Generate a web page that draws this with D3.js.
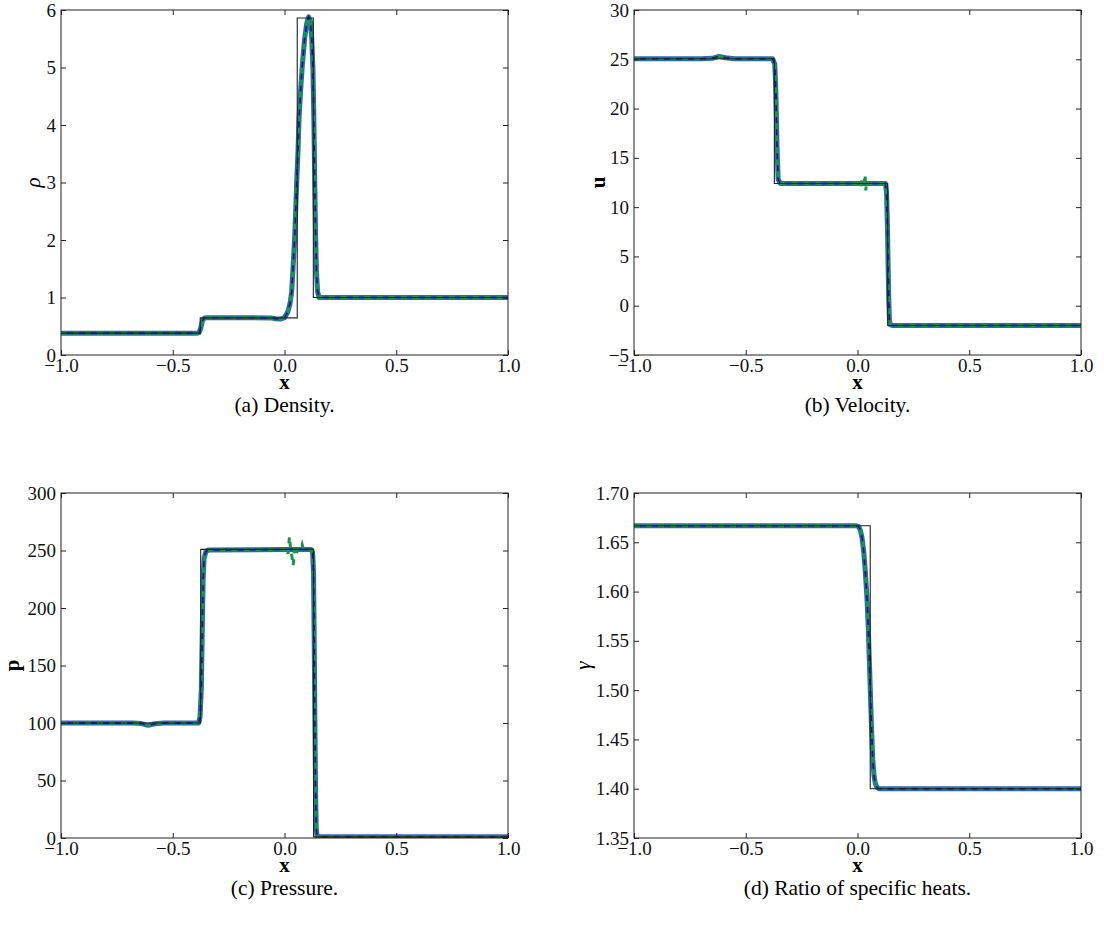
<!DOCTYPE html>
<html>
<head>
<meta charset="utf-8">
<script src="https://cdn.jsdelivr.net/npm/d3@7"></script>
<style>
  body { margin: 0; background: #fff; }
  svg text { font-family: "Liberation Serif", "Times New Roman", serif; }
</style>
</head>
<body>
<div id="plot"></div>
<script>

// ---- density ----
var rhoExactX = [-1, -0.377, -0.377, 0.057, 0.057, 0.129, 0.129, 1];
var rhoExactY = [0.38, 0.38, 0.645, 0.645, 5.86, 5.86, 1.0, 1.0];
var rhoNumX = [-1, -0.39, -0.382, -0.374, -0.367, -0.358, -0.34, -0.2, -0.06, -0.04, -0.02, 0.0, 0.015, 0.025, 0.032, 0.038, 0.045, 0.05, 0.055, 0.06, 0.065, 0.072, 0.08, 0.09, 0.1, 0.108, 0.116, 0.122, 0.127, 0.131, 0.135, 0.139, 0.143, 0.148, 0.155, 0.17, 1];
var rhoNumY = [0.38, 0.38, 0.39, 0.48, 0.6, 0.645, 0.65, 0.65, 0.645, 0.63, 0.625, 0.65, 0.75, 0.9, 1.1, 1.5, 2.0, 2.5, 3.05, 3.5, 4.1, 4.6, 5.05, 5.5, 5.78, 5.88, 5.8, 5.5, 5.0, 4.2, 3.1, 2.1, 1.45, 1.1, 1.0, 1.0, 1.0];

// ---- velocity ----
var uExactX = [-1, -0.372, -0.372, 0.135, 0.135, 1];
var uExactY = [25.05, 25.05, 12.4, 12.4, -2.0, -2.0];
var uNumX = [-1, -0.7, -0.65, -0.62, -0.59, -0.55, -0.38, -0.37, -0.365, -0.36, -0.355, -0.345, 0.0, 0.125, 0.13, 0.134, 0.137, 0.14, 0.143, 0.147, 0.155, 1];
var uNumY = [25.05, 25.05, 25.1, 25.3, 25.15, 25.05, 25.05, 24.5, 21.5, 16, 12.8, 12.4, 12.4, 12.4, 11.5, 8, 4, 0.5, -1.5, -1.95, -2.0, -2.0];
var uDashX = [-1, -0.7, -0.65, -0.62, -0.59, -0.55, -0.38, -0.37, -0.365, -0.36, -0.355, -0.345, 0.0, 0.006, 0.012, 0.018, 0.024, 0.03, 0.034, 0.037, 0.041, 0.046, 0.06, 0.125, 0.13, 0.134, 0.137, 0.14, 0.143, 0.147, 0.155, 1];
var uDashY = [25.05, 25.05, 25.1, 25.3, 25.15, 25.05, 25.05, 24.5, 21.5, 16, 12.8, 12.4, 12.4, 12.3, 12.0, 12.7, 12.2, 12.6, 13.3, 11.7, 12.6, 12.35, 12.4, 12.4, 11.5, 8, 4, 0.5, -1.5, -1.95, -2.0, -2.0];

// ---- pressure ----
var pExactX = [-1, -0.375, -0.375, 0.13, 0.13, 1];
var pExactY = [100, 100, 251, 251, 1, 1];
var pNumX = [-1, -0.68, -0.64, -0.61, -0.58, -0.54, -0.385, -0.378, -0.372, -0.368, -0.364, -0.36, -0.352, -0.34, 0.0, 0.12, 0.126, 0.13, 0.133, 0.136, 0.139, 0.142, 0.146, 0.155, 1];
var pNumY = [100, 100, 99.5, 98, 99.3, 100, 100, 105, 130, 180, 225, 243, 249, 250.5, 250.8, 250.8, 248, 230, 170, 100, 40, 8, 1.5, 1, 1];
var pDashX = [-1, -0.68, -0.64, -0.61, -0.58, -0.54, -0.385, -0.378, -0.372, -0.368, -0.364, -0.36, -0.352, -0.34, 0.0, 0.01, 0.016, 0.022, 0.028, 0.034, 0.039, 0.045, 0.052, 0.06, 0.072, 0.079, 0.086, 0.1, 0.12, 0.126, 0.13, 0.133, 0.136, 0.139, 0.142, 0.146, 0.155, 1];
var pDashY = [100, 100, 99.5, 98, 99.3, 100, 100, 105, 130, 180, 225, 243, 249, 250.5, 250.8, 252, 247, 262, 250, 244, 237, 252, 247, 251, 250, 255, 250, 250.8, 250.8, 248, 230, 170, 100, 40, 8, 1.5, 1, 1];

// ---- ratio of specific heats ----
var gExactX = [-1, 0.057, 0.057, 1];
var gExactY = [1.6667, 1.6667, 1.4, 1.4];
var gNumX = [-1, -0.005, 0.005, 0.013, 0.02, 0.028, 0.035, 0.042, 0.048, 0.053, 0.058, 0.063, 0.068, 0.074, 0.08, 0.088, 0.095, 1];
var gNumY = [1.6667, 1.6667, 1.666, 1.662, 1.655, 1.64, 1.62, 1.595, 1.565, 1.53, 1.495, 1.46, 1.43, 1.413, 1.405, 1.401, 1.4, 1.4];

var xTicks = [-1.0, -0.5, 0.0, 0.5, 1.0];

var panels = [
    { left: 61, top: 10, yDomain: [0, 6], yTicks: [0, 1, 2, 3, 4, 5, 6], yFmt: "d",
      yLabel: "ρ", yItalic: true, yLabelX: 40, caption: "(a) Density.",
      exact: [rhoExactX, rhoExactY], num: [rhoNumX, rhoNumY], dash: [rhoNumX, rhoNumY] },
    { left: 634, top: 10, yDomain: [-5, 30], yTicks: [-5, 0, 5, 10, 15, 20, 25, 30], yFmt: "d",
      yLabel: "u", yItalic: false, yLabelX: 605, caption: "(b) Velocity.",
      exact: [uExactX, uExactY], num: [uNumX, uNumY], dash: [uDashX, uDashY] },
    { left: 61, top: 493, yDomain: [0, 300], yTicks: [0, 50, 100, 150, 200, 250, 300], yFmt: "d",
      yLabel: "p", yItalic: false, yLabelX: 19, caption: "(c) Pressure.",
      exact: [pExactX, pExactY], num: [pNumX, pNumY], dash: [pDashX, pDashY] },
    { left: 634, top: 493, yDomain: [1.35, 1.70], yTicks: [1.35, 1.40, 1.45, 1.50, 1.55, 1.60, 1.65, 1.70], yFmt: ".2f",
      yLabel: "γ", yItalic: true, yLabelX: 590, caption: "(d) Ratio of specific heats.",
      exact: [gExactX, gExactY], num: [gNumX, gNumY], dash: [gNumX, gNumY] }
];

var width = 447;
var height = 345;

var svg = d3.select("#plot")
            .append("svg")
            .attr("width", 1104)
            .attr("height", 930);

panels.forEach(p => buildPanel(p));

function zipPts(arr){
    return arr[0].map((x, i) => [x, arr[1][i]]);
}

function buildPanel(p){

    var xScale = d3.scaleLinear().domain([-1, 1]).range([0, width]);
    var yScale = d3.scaleLinear().domain(p.yDomain).range([height, 0]);

    var g = svg.append("g")
               .attr("transform", "translate(" + p.left + "," + p.top + ")");

    var line = d3.line()
                 .x(d => xScale(d[0]))
                 .y(d => yScale(d[1]));

    var clipId = "clip" + p.left + "_" + p.top;
    g.append("clipPath").attr("id", clipId)
     .append("rect").attr("width", width).attr("height", height);

    var curves = g.append("g").attr("clip-path", "url(#" + clipId + ")");

    // numerical, blue
    curves.append("path")
          .attr("d", line(zipPts(p.num)))
          .style("fill", "none")
          .style("stroke", "#2a68b8")
          .style("stroke-width", 5)
          .style("stroke-linejoin", "round");

    // numerical, dark core
    curves.append("path")
          .attr("d", line(zipPts(p.num)))
          .style("fill", "none")
          .style("stroke", "#10204a")
          .style("stroke-width", 1.5);

    // numerical, green dashed
    curves.append("path")
          .attr("d", line(zipPts(p.dash)))
          .style("fill", "none")
          .style("stroke", "#15974a")
          .style("stroke-width", 3)
          .style("stroke-dasharray", "6,6");

    // exact
    curves.append("path")
          .attr("d", line(zipPts(p.exact)))
          .style("fill", "none")
          .style("stroke", "#222")
          .style("stroke-width", 1.1);

    // axes, ticks inside on all sides
    var fmtX = d3.format(".1f");
    var fmtY = d3.format(p.yFmt);

    var bottom = g.append("g")
                  .attr("transform", "translate(0," + height + ")")
                  .call(d3.axisBottom(xScale).tickValues(xTicks).tickFormat(fmtX)
                          .tickSizeInner(-5).tickSizeOuter(0).tickPadding(4));
    var top = g.append("g")
               .call(d3.axisTop(xScale).tickValues(xTicks).tickFormat("")
                       .tickSizeInner(-5).tickSizeOuter(0));
    var leftAx = g.append("g")
                  .call(d3.axisLeft(yScale).tickValues(p.yTicks).tickFormat(fmtY)
                          .tickSizeInner(-5).tickSizeOuter(0).tickPadding(5));
    var rightAx = g.append("g")
                   .attr("transform", "translate(" + width + ",0)")
                   .call(d3.axisRight(yScale).tickValues(p.yTicks).tickFormat("")
                           .tickSizeInner(-5).tickSizeOuter(0));

    [bottom, top, leftAx, rightAx].forEach(a => {
        a.select(".domain").remove();
        a.selectAll(".tick line").style("stroke", "#222").style("stroke-width", 1);
        a.selectAll("text")
         .style("font-family", "'Liberation Serif', serif")
         .style("font-size", "19px")
         .style("fill", "#111");
    });

    g.append("rect")
     .attr("width", width)
     .attr("height", height)
     .style("fill", "none")
     .style("stroke", "#222")
     .style("stroke-width", 1);

    // x label
    g.append("text")
     .attr("x", width / 2)
     .attr("y", height + 34)
     .attr("text-anchor", "middle")
     .style("font-size", "21px")
     .style("font-weight", "bold")
     .text("x");

    // y label
    svg.append("text")
       .attr("transform", "translate(" + p.yLabelX + "," + (p.top + height / 2) + ") rotate(-90)")
       .attr("text-anchor", "middle")
       .style("font-size", "21px")
       .style("font-weight", p.yItalic ? "normal" : "bold")
       .style("font-style", p.yItalic ? "italic" : "normal")
       .text(p.yLabel);

    // caption
    svg.append("text")
       .attr("x", p.left + width / 2)
       .attr("y", p.top + height + 57)
       .attr("text-anchor", "middle")
       .style("font-size", "21.5px")
       .text(p.caption);

}
</script>
</body>
</html>
